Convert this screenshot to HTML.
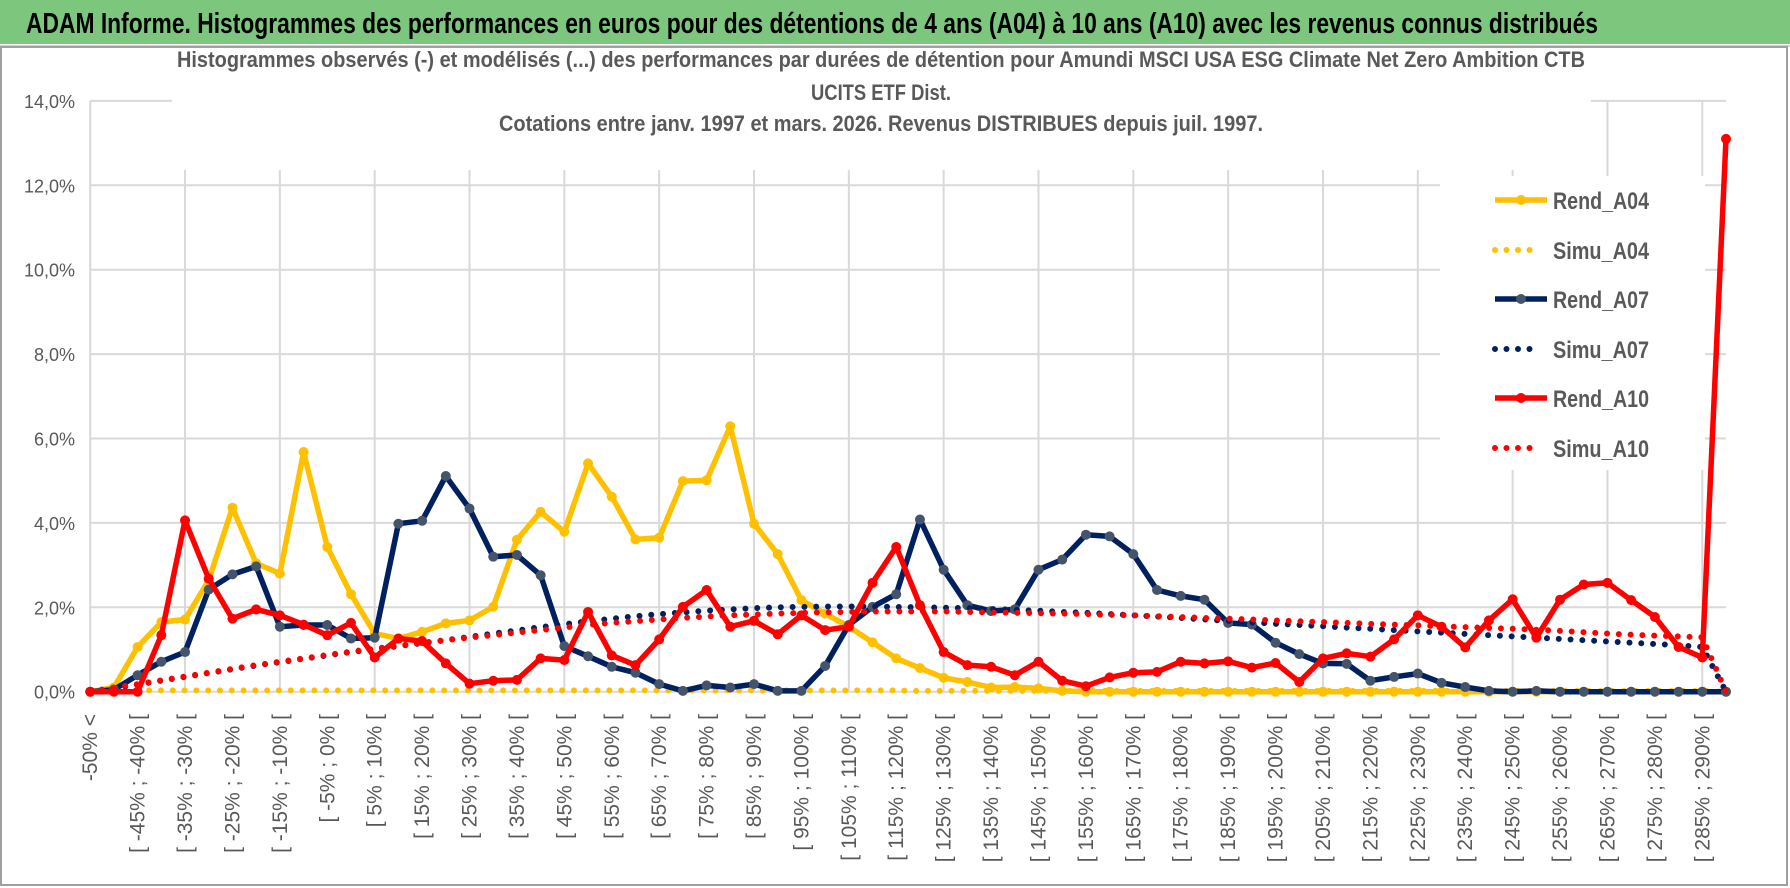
<!DOCTYPE html>
<html><head><meta charset="utf-8">
<style>
html,body{margin:0;padding:0;background:#fff;}
svg{display:block;font-family:"Liberation Sans",sans-serif;}
</style></head>
<body>
<svg id="chart" width="1790" height="888" viewBox="0 0 1790 888" xmlns="http://www.w3.org/2000/svg">
  <rect x="0" y="0" width="1790" height="888" fill="#fff"/>
  <rect x="0" y="0" width="1790" height="44" fill="#7dc67e"/>
  <text x="26" y="33" font-size="29" font-weight="bold" fill="#000" textLength="1572" lengthAdjust="spacingAndGlyphs">ADAM Informe. Histogrammes des performances en euros pour des détentions de 4 ans (A04) à 10 ans (A10) avec les revenus connus distribués</text>
  <line x1="0" y1="46" x2="1790" y2="46" stroke="#d0d0d0" stroke-width="2"/>
  <rect x="1" y="47" width="1786" height="838" fill="none" stroke="#a0a0a0" stroke-width="2"/>
  <g id="grid"></g>
  <rect x="172" y="62" width="1419" height="108" fill="#fff"/>
  <g font-weight="bold" fill="#595959" font-size="22" text-anchor="middle">
    <text x="881" y="67" textLength="1408" lengthAdjust="spacingAndGlyphs">Histogrammes observés (-) et modélisés (...) des performances par durées de détention pour Amundi MSCI USA ESG Climate Net Zero Ambition CTB</text>
    <text x="881" y="100" textLength="140" lengthAdjust="spacingAndGlyphs">UCITS ETF Dist.</text>
    <text x="881" y="131" textLength="764" lengthAdjust="spacingAndGlyphs">Cotations entre janv. 1997 et mars. 2026. Revenus DISTRIBUES depuis juil. 1997.</text>
  </g>
  <g id="yaxis"></g>
  <g id="xaxis"></g>
  <rect x="1440" y="176" width="265" height="294" fill="#fff"/>
  <g id="series"></g>
  <g id="legend"></g>
</svg>
<script>
const yTicks = [0,2,4,6,8,10,12,14];
const yTickLabels = ["0,0%","2,0%","4,0%","6,0%","8,0%","10,0%","12,0%","14,0%"];
const categories = ["-50% <"];
for (let k = 1; k < 70; k++) { const a = -55 + 5*k; categories.push("[ " + a + "% ; " + (a+5) + "% ["); }
const rendA04 = [0,0.1,1.06,1.65,1.71,2.64,4.36,3.04,2.8,5.68,3.43,2.31,1.38,1.26,1.42,1.62,1.69,2.01,3.6,4.26,3.79,5.41,4.62,3.61,3.65,4.99,5.01,6.29,3.98,3.26,2.17,1.85,1.54,1.17,0.79,0.56,0.33,0.23,0.1,0.11,0.08,0.02,0,0,0,0,0,0,0,0,0,0,0,0,0,0,0,0,0,0,0,0,0,0,0,0,0,0,0,0];
const simuA04 = [0,0.03,0.03,0.03,0.03,0.03,0.03,0.03,0.03,0.03,0.03,0.03,0.03,0.03,0.03,0.03,0.03,0.03,0.03,0.03,0.03,0.03,0.03,0.03,0.03,0.03,0.03,0.03,0.03,0.03,0.03,0.03,0.03,0.03,0.03,0.02,0.02,0.02,0.02,0.02,0.02,0.02,0.02,0.02,0.02,0.02,0.02,0.02,0.02,0.02,0.02,0.02,0.02,0.02,0.02,0.02,0.02,0.02,0.02,0.02,0.02,0.02,0.02,0.02,0.02,0.02,0.02,0.02,0.02,0];
const rendA07 = [0,0.05,0.39,0.71,0.94,2.42,2.78,2.97,1.54,1.58,1.58,1.26,1.28,3.98,4.05,5.11,4.34,3.2,3.24,2.76,1.08,0.84,0.59,0.45,0.18,0.02,0.15,0.1,0.18,0.02,0.02,0.61,1.58,2.01,2.31,4.08,2.89,2.05,1.91,1.95,2.89,3.13,3.72,3.68,3.26,2.41,2.27,2.18,1.63,1.59,1.16,0.89,0.67,0.66,0.26,0.35,0.43,0.21,0.11,0.02,0,0.02,0,0,0,0,0,0,0,0];
const simuA07 = [0,0.08,0.17,0.26,0.35,0.44,0.53,0.62,0.7,0.78,0.86,0.94,1.01,1.08,1.15,1.22,1.3,1.38,1.45,1.53,1.6,1.67,1.73,1.79,1.84,1.88,1.92,1.95,1.98,2,2.01,2.02,2.02,2.02,2.01,2,1.99,1.98,1.96,1.94,1.92,1.89,1.87,1.84,1.81,1.78,1.75,1.71,1.68,1.64,1.61,1.58,1.55,1.52,1.49,1.46,1.43,1.4,1.37,1.34,1.31,1.28,1.25,1.22,1.19,1.16,1.13,1.1,1.06,0];
const rendA10 = [0,0,0,1.34,4.06,2.68,1.73,1.95,1.81,1.59,1.34,1.63,0.81,1.26,1.2,0.67,0.19,0.26,0.28,0.79,0.75,1.89,0.86,0.63,1.24,2.01,2.41,1.54,1.68,1.36,1.81,1.46,1.54,2.58,3.43,2.05,0.94,0.63,0.59,0.39,0.71,0.26,0.13,0.34,0.45,0.47,0.71,0.67,0.72,0.57,0.68,0.23,0.79,0.91,0.83,1.24,1.81,1.54,1.05,1.69,2.19,1.28,2.18,2.54,2.58,2.17,1.77,1.06,0.81,13.1];
const simuA10 = [0,0.1,0.18,0.27,0.36,0.45,0.54,0.63,0.71,0.79,0.87,0.95,1.02,1.09,1.16,1.22,1.28,1.34,1.4,1.46,1.52,1.58,1.63,1.67,1.71,1.75,1.78,1.81,1.83,1.85,1.87,1.88,1.89,1.9,1.9,1.9,1.9,1.89,1.88,1.87,1.86,1.85,1.84,1.82,1.81,1.79,1.77,1.75,1.73,1.71,1.69,1.67,1.65,1.63,1.61,1.59,1.57,1.55,1.53,1.51,1.49,1.47,1.44,1.41,1.38,1.35,1.33,1.31,1.29,0];
const seriesNames = ["Rend_A04","Simu_A04","Rend_A07","Simu_A07","Rend_A10","Simu_A10"];

const NS = "http://www.w3.org/2000/svg";
const X0 = 90.2, X1 = 1726, Y0 = 691.7, PER = 42.2;
function xPos(i){ return X0 + (X1 - X0) * i / (categories.length - 1); }
function yPos(v){ return Y0 - v * PER; }
function mk(tag, attrs, parent){ const e = document.createElementNS(NS, tag); for (const k in attrs) e.setAttribute(k, attrs[k]); parent.appendChild(e); return e; }

const grid = document.getElementById('grid');
yTicks.forEach(function(t){
  const l = mk('line', {x1:X0, x2:X1, y1:yPos(t), y2:yPos(t), stroke:'#d9d9d9', 'stroke-width':2}, grid);
  
  
});
for (let i = 4; i < categories.length; i += 4) {
  const l = mk('line', {x1:xPos(i), x2:xPos(i), y1:yPos(14), y2:Y0, stroke:'#d9d9d9', 'stroke-width':2}, grid);
  
  
}
mk('line', {x1:X0, x2:X0, y1:yPos(14), y2:Y0, stroke:'#d9d9d9', 'stroke-width':2}, grid);

const ya = document.getElementById('yaxis');
yTicks.forEach(function(t, i){
  const tx = mk('text', {x:75, y:yPos(t)+7, 'text-anchor':'end', 'font-size':18, fill:'#595959'}, ya);
  tx.textContent = yTickLabels[i];
  
  
});

const xa = document.getElementById('xaxis');
categories.forEach(function(c, i){
  if (i % 2 !== 0) return;
  const x = xPos(i) + 7, y = 714;
  const tx = mk('text', {x:x, y:y, transform:'rotate(-90 '+x+' '+y+')', 'text-anchor':'end', 'font-size':21, fill:'#595959'}, xa);
  tx.textContent = c;
  
  
});

const sg = document.getElementById('series');
const defs = [
  {data:rendA04, color:'#ffc000', dotted:false, marker:'#ffc000'},
  {data:simuA04, color:'#ffc000', dotted:true},
  {data:rendA07, color:'#002060', dotted:false, marker:'#44546a'},
  {data:simuA07, color:'#002060', dotted:true},
  {data:rendA10, color:'#ff0000', dotted:false, marker:'#ff0000'},
  {data:simuA10, color:'#ff0000', dotted:true}
];
defs.forEach(function(d, si){
  const g = mk('g', {}, sg);
  
  
  const pts = d.data.map(function(v, i){ return xPos(i).toFixed(1) + ',' + yPos(v).toFixed(1); }).join(' ');
  if (d.dotted) {
    const p = mk('polyline', {points:pts, fill:'none', stroke:d.color, 'stroke-width':6, 'stroke-linecap':'round', 'stroke-dasharray':'0 11.8'}, g);
    
    
  } else {
    const p = mk('polyline', {points:pts, fill:'none', stroke:d.color, 'stroke-width':5.5, 'stroke-linejoin':'round'}, g);
    
    
    d.data.forEach(function(v, i){
      const c = mk('circle', {cx:xPos(i), cy:yPos(v), r:5, fill:d.marker}, g);
      
      
    });
  }
});

const lg = document.getElementById('legend');
const legendY = [200, 250, 299, 349, 398, 448];
defs.forEach(function(d, si){
  const y = legendY[si];
  const g = mk('g', {}, lg);
  
  
  if (d.dotted) {
    mk('line', {x1:1495, x2:1538, y1:y, y2:y, stroke:d.color, 'stroke-width':6, 'stroke-linecap':'round', 'stroke-dasharray':'0 11.5'}, g);
  } else {
    mk('line', {x1:1495, x2:1547, y1:y, y2:y, stroke:d.color, 'stroke-width':5.5}, g);
    mk('circle', {cx:1521, cy:y, r:5, fill:d.marker}, g);
  }
  const t = mk('text', {x:1553, y:y+9, 'font-size':24, 'font-weight':'bold', fill:'#595959', textLength:96, lengthAdjust:'spacingAndGlyphs'}, g);
  t.textContent = seriesNames[si];
});
</script>
</body></html>
